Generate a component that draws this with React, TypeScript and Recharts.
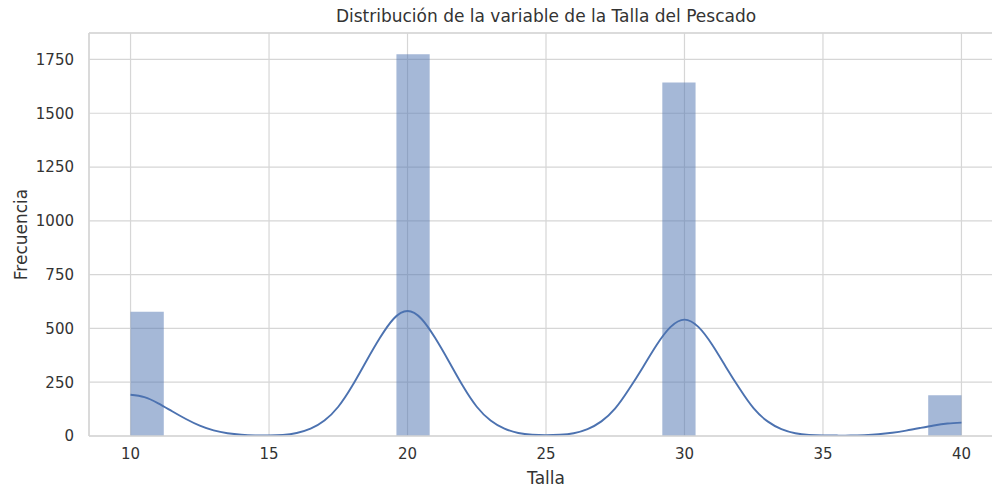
import React from 'react';
import {
  ComposedChart,
  Area,
  Line,
  XAxis,
  YAxis,
  CartesianGrid,
  ReferenceLine,
} from 'recharts';

// histograma: 25 bins de 1.2 entre 10 y 40 (borde izquierdo de cada bin)
const binEdges = [
  10, 11.2, 12.4, 13.6, 14.8, 16, 17.2, 18.4, 19.6, 20.8, 22, 23.2, 24.4,
  25.6, 26.8, 28, 29.2, 30.4, 31.6, 32.8, 34, 35.2, 36.4, 37.6, 38.8, 40,
];
const binCounts = [
  578, 0, 0, 0, 0, 0, 0, 0, 1774, 0, 0, 0, 0, 0, 0, 0, 1643, 0, 0, 0, 0, 0, 0, 0, 189, 189,
];

// curva KDE
const kdeX = [
  10, 10.5, 11, 11.5, 12, 12.5, 13, 13.5, 14, 14.5, 15, 15.5, 16, 16.5, 17, 17.5,
  18, 18.5, 19, 19.5, 20, 20.5, 21, 21.5, 22, 22.5, 23, 23.5, 24, 24.5, 25, 25.5,
  26, 26.5, 27, 27.5, 28, 28.5, 29, 29.5, 30, 30.5, 31, 31.5, 32, 32.5, 33, 33.5,
  34, 34.5, 35, 35.5, 36, 36.5, 37, 37.5, 38, 38.5, 39, 39.5, 40,
];
const kdeY = [
  192, 181, 152, 115, 79, 48, 26, 13, 6, 3, 2.5, 5, 14, 34, 72, 136,
  232, 345, 455, 545, 581, 545, 455, 345, 232, 136, 72, 34, 14, 6, 4, 6,
  13, 32, 68, 128, 218, 320, 424, 507, 541, 507, 424, 320, 218, 128, 68, 32,
  13, 5, 2.5, 2, 2, 4, 8, 15, 25, 37, 49, 58, 62,
];

const xTicks = [10, 15, 20, 25, 30, 35, 40];
const yTicks = [0, 250, 500, 750, 1000, 1250, 1500, 1750];
const Y_MAX = 1873;

const histData = binEdges.map((x, i) => ({ x, count: binCounts[i] }));
const kdeData = kdeX.map((x, i) => ({ x, kde: kdeY[i] }));

const FONT = '"DejaVu Sans", sans-serif';
const TEXT = '#333333';
const GRID = '#d6d6d6';
const BLUE = '#4C72B0';

export default function App() {
  return (
    <div
      style={{
        position: 'absolute',
        left: 0,
        top: 0,
        width: 992,
        height: 489,
        overflow: 'hidden',
        background: '#fff',
        fontFamily: FONT,
      }}
    >
      <div
        style={{
          position: 'absolute',
          left: 0,
          top: 6,
          width: 1092,
          textAlign: 'center',
          fontSize: 17,
          color: TEXT,
        }}
      >
        Distribución de la variable de la Talla del Pescado
      </div>
      <ComposedChart
        width={1020}
        height={489}
        margin={{ top: 33, right: 17, bottom: 0, left: 0 }}
      >
        <CartesianGrid stroke={GRID} strokeWidth={1.2} />
        <XAxis
          dataKey="x"
          type="number"
          domain={[8.5, 41.5]}
          ticks={xTicks}
          allowDataOverflow
          height={53}
          tickLine={false}
          tickSize={0}
          tickMargin={12}
          axisLine={{ stroke: GRID, strokeWidth: 1.5 }}
          tick={{ fill: TEXT, fontSize: 15, fontFamily: FONT }}
          label={{
            value: 'Talla',
            position: 'center',
            dy: 15,
            fill: TEXT,
            fontSize: 17,
            fontFamily: FONT,
          }}
        />
        <YAxis
          type="number"
          domain={[0, Y_MAX]}
          ticks={yTicks}
          allowDataOverflow
          width={89}
          tickLine={false}
          tickSize={0}
          tickMargin={15}
          axisLine={{ stroke: GRID, strokeWidth: 1.5 }}
          tick={{ fill: TEXT, fontSize: 15, fontFamily: FONT }}
          label={{
            value: 'Frecuencia',
            angle: -90,
            position: 'center',
            dx: -24,
            fill: TEXT,
            fontSize: 17,
            fontFamily: FONT,
          }}
        />
        <ReferenceLine y={Y_MAX} stroke={GRID} strokeWidth={1.5} />
        <Area
          data={histData}
          dataKey="count"
          type="stepAfter"
          fill={BLUE}
          fillOpacity={0.5}
          stroke="none"
          isAnimationActive={false}
        />
        <Line
          data={kdeData}
          dataKey="kde"
          type="natural"
          stroke={BLUE}
          strokeWidth={1.9}
          dot={false}
          activeDot={false}
          isAnimationActive={false}
        />
      </ComposedChart>
    </div>
  );
}
